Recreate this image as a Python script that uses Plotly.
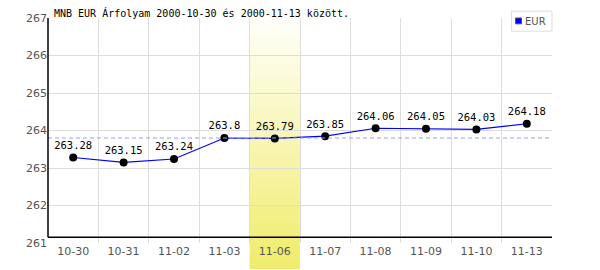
import plotly.graph_objects as go

dates = ["10-30", "10-31", "11-02", "11-03", "11-06", "11-07", "11-08", "11-09", "11-10", "11-13"]
eur = [263.28, 263.15, 263.24, 263.8, 263.79, 263.85, 264.06, 264.05, 264.03, 264.18]
avg_value = 263.8
highlight = "11-06"
series_name = "EUR"
title = "MNB EUR Árfolyam 2000-10-30 és 2000-11-13 között."
y_ticks = [261, 262, 263, 264, 265, 266, 267]

W, H = 600, 270
L, R, T, B = 48, 48, 13, 26
PW, PH = W - L - R, H - T - B


def px_x(px):
    return (px - L) / PW


def px_y(py):
    return (H - B - py) / PH


fig = go.Figure()

# highlight column gradient (thin strips)
hi = dates.index(highlight)
n = 60
top_c = (255, 255, 250)
bot_c = (240, 236, 106)
y_top_px, y_bot_px = 13, 270
for i in range(n):
    f0 = i / n
    f1 = (i + 1) / n
    fm = (f0 + f1) / 2
    c = tuple(round(top_c[k] + (bot_c[k] - top_c[k]) * fm) for k in range(3))
    py0 = y_top_px + (y_bot_px - y_top_px) * f0
    py1 = y_top_px + (y_bot_px - y_top_px) * f1 + 0.6
    fig.add_shape(type="rect", xref="x", yref="paper",
                  x0=hi - 0.5, x1=hi + 0.5,
                  y0=px_y(py1), y1=px_y(py0),
                  fillcolor="rgb(%d,%d,%d)" % c, line_width=0, layer="below")

# average dashed line
fig.add_shape(type="line", xref="paper", yref="y", x0=0, x1=1,
              y0=avg_value, y1=avg_value,
              line=dict(color="#9999ff", width=1, dash="4px,3px"), layer="above")

fig.add_trace(go.Scatter(
    x=dates, y=eur, mode="lines+markers+text", name=series_name,
    line=dict(color="#0000ff", width=1.2),
    marker=dict(color="black", size=8),
    text=[("%g" % v) for v in eur], textposition="top center",
    textfont=dict(family="DejaVu Sans Mono", size=10.5, color="black"),
    showlegend=False, cliponaxis=False,
))

# black axis lines
ax_y = px_y(238)
fig.add_shape(type="line", xref="paper", yref="paper", x0=0, x1=0, y0=ax_y, y1=1,
              line=dict(color="black", width=1.5))
fig.add_shape(type="line", xref="paper", yref="paper", x0=0, x1=1, y0=ax_y, y1=ax_y,
              line=dict(color="black", width=1.5))

fig.add_annotation(text=title, xref="paper", yref="paper", x=px_x(52),
                   y=1, xanchor="left", yanchor="bottom", showarrow=False,
                   yshift=-3,
                   font=dict(family="DejaVu Sans Mono", size=10, color="black"))

# manual compact legend
fig.add_shape(type="rect", xref="paper", yref="paper",
              x0=px_x(511.5), x1=px_x(552), y0=px_y(26.5), y1=px_y(6),
              fillcolor="white", line=dict(color="#dddddd", width=1), layer="above")
fig.add_shape(type="rect", xref="paper", yref="paper",
              x0=px_x(515.5), x1=px_x(521.5), y0=px_y(19), y1=px_y(13),
              fillcolor="#0000ff", line=dict(color="#555555", width=1), layer="above")
fig.add_annotation(text=series_name, xref="paper", yref="paper", x=px_x(523),
                   y=px_y(16.5), xanchor="left", yanchor="middle", showarrow=False,
                   font=dict(family="DejaVu Sans", size=10, color="#555555"))

fig.update_layout(
    width=W, height=H, margin=dict(l=L, r=R, t=T, b=B),
    paper_bgcolor="white", plot_bgcolor="white",
    showlegend=False,
    xaxis=dict(type="category", range=[-0.5, len(dates) - 0.5],
               showgrid=True, gridcolor="#dddddd", gridwidth=1,
               tickson="boundaries", ticks="", showline=False, zeroline=False,
               tickfont=dict(family="DejaVu Sans", size=11, color="#555555")),
    yaxis=dict(range=[261, 267], tickvals=y_ticks, showgrid=True,
               gridcolor="#dddddd", gridwidth=1, ticks="", showline=False,
               zeroline=False,
               tickfont=dict(family="DejaVu Sans", size=11, color="#555555")),
)

fig.write_html("out.html")
